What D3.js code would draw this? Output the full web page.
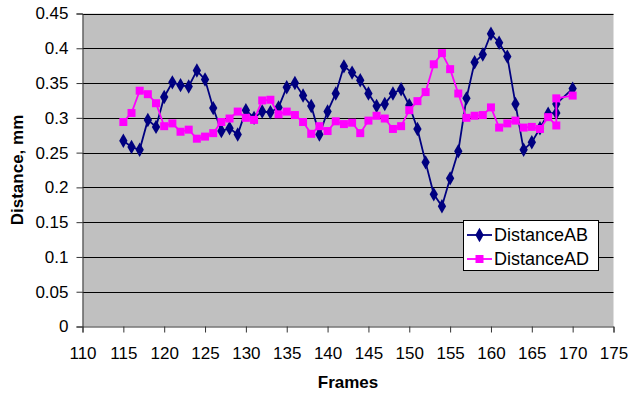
<!DOCTYPE html>
<html>
<head>
<meta charset="utf-8">
<script src="https://cdn.jsdelivr.net/npm/d3@7"></script>
<style>
  html, body { margin: 0; padding: 0; background: #fff; }
  svg { display: block; font-family: "Liberation Sans", Arial, Helvetica, sans-serif; }
</style>
</head>
<body>
<svg id="chart" width="630" height="394"></svg>
<script>
// ---- data ----
const framesAB = [115,116,117,118,119,120,121,122,123,124,125,126,127,128,129,130,131,132,133,134,135,136,137,138,139,140,141,142,143,144,145,146,147,148,149,150,151,152,153,154,155,156,157,158,159,160,161,162,163,164,165,166,167,168,168,170];
const distanceAB = [0.267,0.258,0.254,0.297,0.287,0.330,0.351,0.347,0.345,0.368,0.355,0.314,0.281,0.285,0.276,0.311,0.300,0.309,0.308,0.315,0.344,0.350,0.332,0.317,0.276,0.309,0.335,0.374,0.365,0.354,0.335,0.317,0.320,0.335,0.341,0.318,0.284,0.236,0.190,0.173,0.213,0.252,0.328,0.380,0.391,0.421,0.408,0.388,0.320,0.254,0.265,0.285,0.306,0.307,0.320,0.342];
const framesAD = [115,116,117,118,119,120,121,122,123,124,125,126,127,128,129,130,131,132,133,134,135,136,137,138,139,140,141,142,143,144,145,146,147,148,149,150,151,152,153,154,155,156,157,158,159,160,161,162,163,164,165,166,167,168,168,170];
const distanceAD = [0.294,0.307,0.339,0.334,0.321,0.288,0.292,0.280,0.283,0.270,0.273,0.278,0.294,0.299,0.309,0.300,0.297,0.325,0.326,0.305,0.309,0.304,0.294,0.277,0.288,0.281,0.295,0.291,0.293,0.278,0.296,0.303,0.299,0.284,0.288,0.311,0.324,0.337,0.377,0.393,0.370,0.335,0.300,0.303,0.304,0.315,0.286,0.292,0.296,0.286,0.287,0.284,0.301,0.289,0.328,0.332];
const xTicks = [110,115,120,125,130,135,140,145,150,155,160,165,170,175];
const yTicks = [0,0.05,0.1,0.15,0.2,0.25,0.3,0.35,0.4,0.45];
const seriesNames = ["DistanceAB","DistanceAD"];
const xTitle = "Frames";
const yTitle = "Distance, mm";

// ---- layout ----
const pLeft = 82.5, pRight = 613.5, pTop = 13.5, pBottom = 326.5;
const svg = d3.select("#chart");
const x = d3.scaleLinear().domain([110,175]).range([pLeft,pRight]);
const y = d3.scaleLinear().domain([0,0.45]).range([pBottom,pTop]);

// plot background
svg.append("rect").attr("x",pLeft).attr("y",pTop).attr("width",pRight-pLeft).attr("height",pBottom-pTop).attr("fill","#c0c0c0");

// gridlines
svg.append("g").selectAll("line").data(yTicks.filter(d=>d>0)).join("line")
  .attr("x1",pLeft).attr("x2",pRight)
  .attr("y1",d=>Math.round(y(d))+0.5).attr("y2",d=>Math.round(y(d))+0.5)
  .attr("stroke","#000").attr("stroke-width",1);

// axes
const yAxis = d3.axisLeft(y).tickValues(yTicks).tickSize(6).tickPadding(8).tickFormat(d=>String(+d.toFixed(2)));
const gy = svg.append("g").attr("transform",`translate(${pLeft},0)`).call(yAxis);
gy.select(".domain").attr("stroke","#333");
gy.selectAll(".tick line").attr("stroke","#333");
gy.selectAll("text").attr("font-size",17).attr("fill","#000").attr("font-family","Liberation Sans, Arial, sans-serif");

const xAxis = d3.axisBottom(x).tickValues(xTicks).tickSize(6).tickPadding(14).tickFormat(d3.format("d"));
const gx = svg.append("g").attr("transform",`translate(0,${pBottom})`).call(xAxis);
gx.select(".domain").attr("stroke","#333");
gx.selectAll(".tick line").attr("stroke","#333");
gx.selectAll("text").attr("font-size",17).attr("fill","#000").attr("font-family","Liberation Sans, Arial, sans-serif");

// axis titles
svg.append("text").attr("x",(pLeft+pRight)/2).attr("y",388).attr("text-anchor","middle")
  .attr("font-size",17).attr("font-weight","bold").text(xTitle);
svg.append("text").attr("transform",`translate(23,${(pTop+pBottom)/2}) rotate(-90)`).attr("text-anchor","middle")
  .attr("font-size",17).attr("font-weight","bold").text(yTitle);

// series
const abData = framesAB.map((f,i)=>({f, v: distanceAB[i]}));
const adData = framesAD.map((f,i)=>({f, v: distanceAD[i]}));
const line = d3.line().x(d=>x(d.f)).y(d=>y(d.v));
const diamond = d3.symbol().type(d3.symbolDiamond).size(60);
const square = d3.symbol().type(d3.symbolSquare).size(64);

function drawSeries(data, color, sym) {
  svg.append("path").datum(data).attr("d",line).attr("fill","none").attr("stroke",color).attr("stroke-width",1.8);
  svg.append("g").selectAll("path").data(data).join("path")
    .attr("transform",d=>`translate(${x(d.f)},${y(d.v)})`)
    .attr("d",sym).attr("fill",color);
}
drawSeries(abData,"#000080",diamond);
drawSeries(adData,"#ff00ff",square);

// legend
const lg = svg.append("g");
lg.append("rect").attr("x",463.5).attr("y",220.5).attr("width",135).attr("height",50)
  .attr("fill","#fff").attr("stroke","#000").attr("stroke-width",1);
const legendItems = [{name: seriesNames[0], color:"#000080", sym: diamond, yy:235},
                     {name: seriesNames[1], color:"#ff00ff", sym: square, yy:259}];
legendItems.forEach(it=>{
  lg.append("line").attr("x1",467).attr("x2",492).attr("y1",it.yy).attr("y2",it.yy).attr("stroke",it.color).attr("stroke-width",1.8);
  lg.append("path").attr("transform",`translate(479.5,${it.yy})`).attr("d",it.sym).attr("fill",it.color);
  lg.append("text").attr("x",494).attr("y",it.yy+6).attr("font-size",18).attr("fill","#000").text(it.name);
});
</script>
</body>
</html>
